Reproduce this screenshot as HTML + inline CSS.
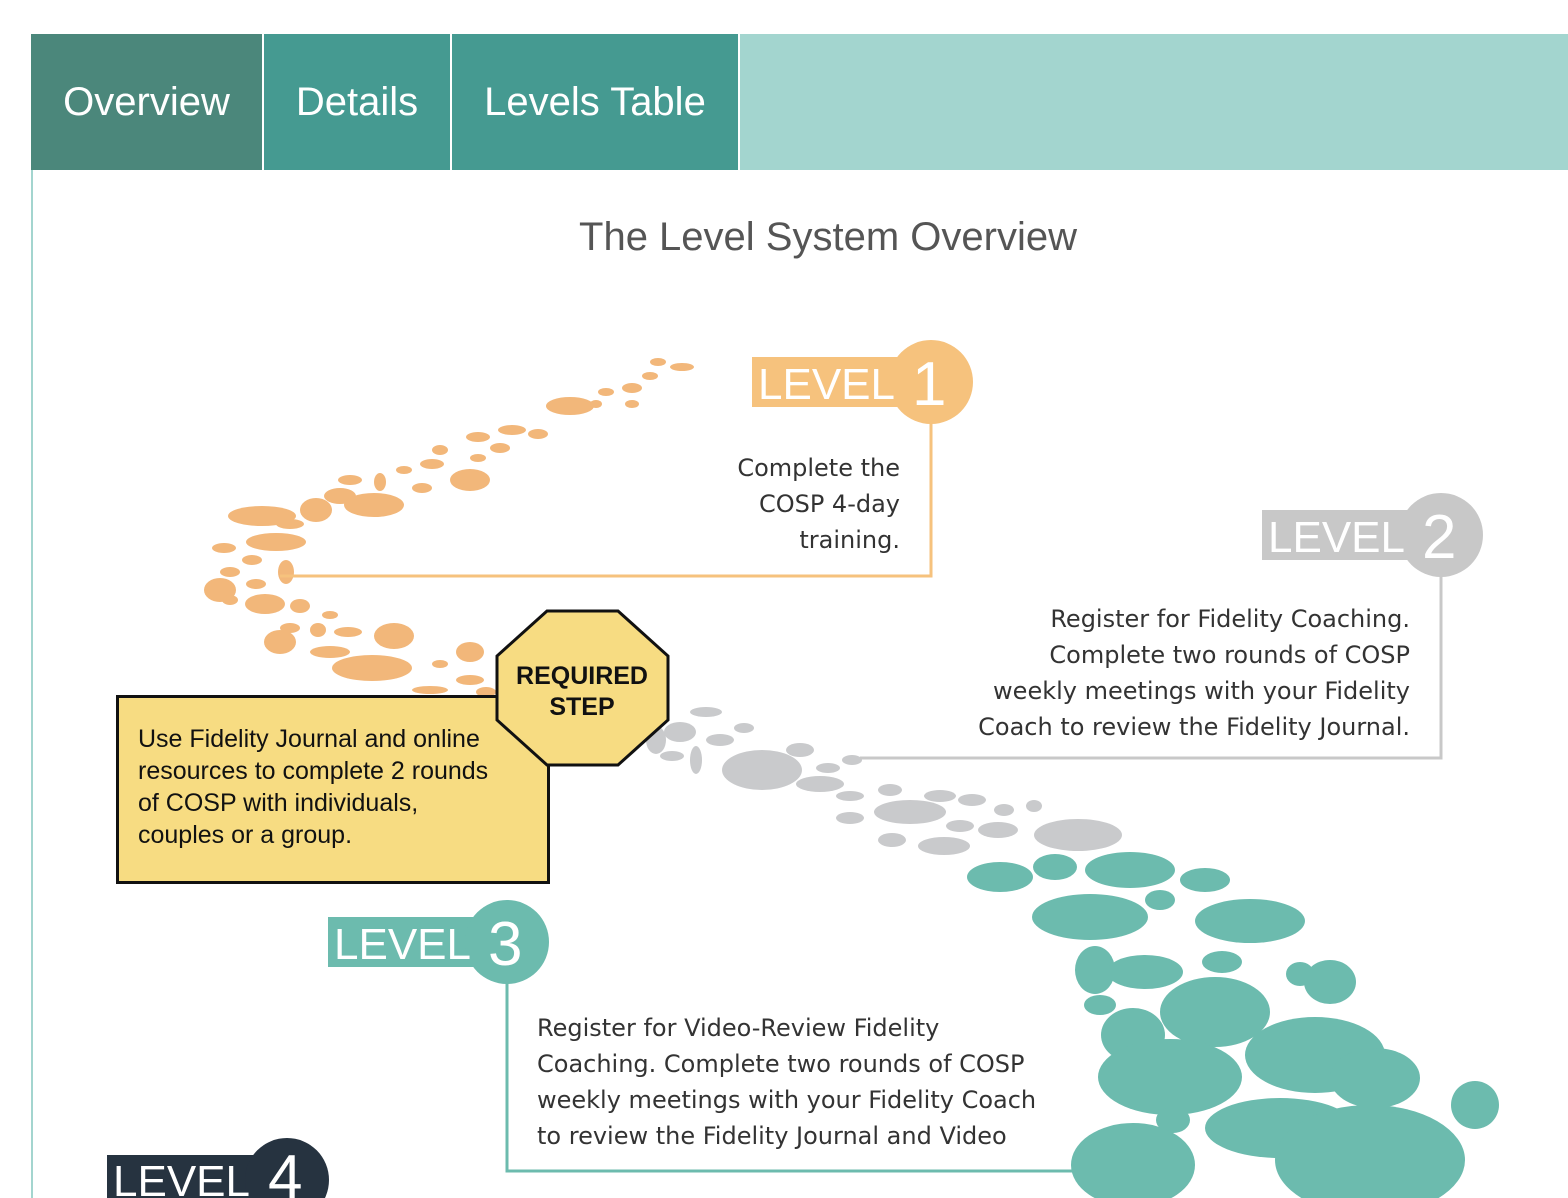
<!DOCTYPE html>
<html><head><meta charset="utf-8"><style>
html,body{margin:0;padding:0;background:#fff;}
body{width:1568px;height:1198px;overflow:hidden;position:relative;font-family:"Liberation Sans",sans-serif;}
.tab{position:absolute;top:34px;height:136px;color:#fff;font-size:40px;line-height:136px;text-align:center;}
</style></head><body>
<div class="tab" style="left:31px;width:231px;background:#4b877b;">Overview</div>
<div class="tab" style="left:264px;width:186px;background:#459a91;">Details</div>
<div class="tab" style="left:452px;width:286px;background:#459a91;">Levels Table</div>
<div class="tab" style="left:740px;width:828px;background:#a3d5cf;"></div>
<div style="position:absolute;left:31px;top:170px;width:2px;height:1028px;background:#a3d5cf;"></div>
<svg width="1568" height="1198" style="position:absolute;left:0;top:0" xmlns="http://www.w3.org/2000/svg">
<text x="828" y="250" text-anchor="middle" font-family="Liberation Sans" font-size="40" fill="#555">The Level System Overview</text>
<!-- orange stones -->
<g fill="#f2b77a">
<ellipse cx="682" cy="367" rx="12" ry="4"/><ellipse cx="658" cy="362" rx="8" ry="4"/><ellipse cx="650" cy="376" rx="8" ry="4"/>
<ellipse cx="632" cy="388" rx="10" ry="5"/><ellipse cx="606" cy="392" rx="8" ry="4"/><ellipse cx="632" cy="404" rx="7" ry="4"/>
<ellipse cx="570" cy="406" rx="24" ry="9"/><ellipse cx="596" cy="404" rx="6" ry="4"/><ellipse cx="538" cy="434" rx="10" ry="5"/>
<ellipse cx="512" cy="430" rx="14" ry="5"/><ellipse cx="478" cy="437" rx="12" ry="5"/><ellipse cx="500" cy="448" rx="10" ry="5"/>
<ellipse cx="440" cy="450" rx="8" ry="5"/><ellipse cx="478" cy="458" rx="8" ry="4"/><ellipse cx="470" cy="480" rx="20" ry="11"/>
<ellipse cx="432" cy="464" rx="12" ry="5"/><ellipse cx="404" cy="470" rx="8" ry="4"/><ellipse cx="422" cy="488" rx="10" ry="5"/>
<ellipse cx="380" cy="482" rx="6" ry="9"/><ellipse cx="350" cy="480" rx="12" ry="5"/><ellipse cx="340" cy="496" rx="16" ry="8"/>
<ellipse cx="374" cy="505" rx="30" ry="12"/><ellipse cx="316" cy="510" rx="16" ry="12"/><ellipse cx="262" cy="516" rx="34" ry="10"/>
<ellipse cx="290" cy="524" rx="14" ry="5"/><ellipse cx="276" cy="542" rx="30" ry="9"/><ellipse cx="224" cy="548" rx="12" ry="5"/>
<ellipse cx="252" cy="560" rx="10" ry="5"/><ellipse cx="286" cy="572" rx="8" ry="12"/><ellipse cx="230" cy="572" rx="10" ry="5"/>
<ellipse cx="220" cy="590" rx="16" ry="12"/><ellipse cx="256" cy="584" rx="10" ry="5"/><ellipse cx="265" cy="604" rx="20" ry="10"/>
<ellipse cx="230" cy="600" rx="8" ry="5"/><ellipse cx="300" cy="606" rx="10" ry="7"/><ellipse cx="330" cy="615" rx="8" ry="4"/>
<ellipse cx="290" cy="628" rx="10" ry="5"/><ellipse cx="318" cy="630" rx="8" ry="7"/><ellipse cx="348" cy="632" rx="14" ry="5"/>
<ellipse cx="394" cy="636" rx="20" ry="13"/><ellipse cx="280" cy="642" rx="16" ry="12"/><ellipse cx="330" cy="652" rx="20" ry="6"/>
<ellipse cx="372" cy="668" rx="40" ry="13"/><ellipse cx="470" cy="652" rx="14" ry="10"/><ellipse cx="440" cy="664" rx="8" ry="4"/>
<ellipse cx="470" cy="680" rx="14" ry="5"/><ellipse cx="430" cy="690" rx="18" ry="4"/><ellipse cx="486" cy="692" rx="10" ry="5"/>
</g>
<!-- gray stones -->
<g fill="#c9cacc">
<ellipse cx="706" cy="712" rx="16" ry="5"/><ellipse cx="680" cy="732" rx="16" ry="10"/><ellipse cx="720" cy="740" rx="14" ry="6"/>
<ellipse cx="744" cy="728" rx="10" ry="5"/><ellipse cx="656" cy="740" rx="10" ry="14"/><ellipse cx="696" cy="760" rx="6" ry="14"/>
<ellipse cx="672" cy="756" rx="12" ry="5"/><ellipse cx="762" cy="770" rx="40" ry="20"/><ellipse cx="800" cy="750" rx="14" ry="7"/>
<ellipse cx="828" cy="768" rx="12" ry="5"/><ellipse cx="852" cy="760" rx="10" ry="5"/><ellipse cx="820" cy="784" rx="24" ry="8"/>
<ellipse cx="850" cy="796" rx="14" ry="5"/><ellipse cx="890" cy="790" rx="12" ry="6"/><ellipse cx="910" cy="812" rx="36" ry="12"/>
<ellipse cx="850" cy="818" rx="14" ry="6"/><ellipse cx="940" cy="796" rx="16" ry="6"/><ellipse cx="972" cy="800" rx="14" ry="6"/>
<ellipse cx="1004" cy="810" rx="10" ry="6"/><ellipse cx="1034" cy="806" rx="8" ry="6"/><ellipse cx="998" cy="830" rx="20" ry="8"/>
<ellipse cx="960" cy="826" rx="14" ry="6"/><ellipse cx="892" cy="840" rx="14" ry="7"/><ellipse cx="944" cy="846" rx="26" ry="9"/>
<ellipse cx="1078" cy="835" rx="44" ry="16"/>
</g>
<!-- teal stones -->
<g fill="#6cbbae">
<ellipse cx="1000" cy="877" rx="33" ry="15"/><ellipse cx="1055" cy="867" rx="22" ry="13"/><ellipse cx="1130" cy="870" rx="45" ry="18"/>
<ellipse cx="1205" cy="880" rx="25" ry="12"/><ellipse cx="1090" cy="917" rx="58" ry="23"/><ellipse cx="1160" cy="900" rx="15" ry="10"/>
<ellipse cx="1250" cy="921" rx="55" ry="22"/><ellipse cx="1095" cy="970" rx="20" ry="24"/><ellipse cx="1145" cy="972" rx="38" ry="17"/>
<ellipse cx="1222" cy="962" rx="20" ry="11"/><ellipse cx="1300" cy="974" rx="14" ry="12"/><ellipse cx="1330" cy="982" rx="26" ry="22"/>
<ellipse cx="1215" cy="1012" rx="55" ry="35"/><ellipse cx="1100" cy="1005" rx="16" ry="10"/><ellipse cx="1133" cy="1035" rx="32" ry="27"/>
<ellipse cx="1315" cy="1055" rx="70" ry="38"/><ellipse cx="1170" cy="1077" rx="72" ry="38"/><ellipse cx="1375" cy="1078" rx="45" ry="30"/>
<ellipse cx="1475" cy="1105" rx="24" ry="24"/><ellipse cx="1173" cy="1120" rx="17" ry="13"/><ellipse cx="1280" cy="1128" rx="75" ry="30"/>
<ellipse cx="1133" cy="1165" rx="62" ry="42"/><ellipse cx="1370" cy="1160" rx="95" ry="55"/>
</g>
<!-- level 1 -->
<polyline points="931,420 931,576 280,576" fill="none" stroke="#f6c27d" stroke-width="3"/>
<rect x="752" y="357" width="150" height="50" fill="#f6c27d"/><circle cx="931" cy="382" r="42" fill="#f6c27d"/>
<text x="758" y="399" font-size="44" fill="#fff">LEVEL</text><text x="912" y="405" font-size="62" fill="#fff">1</text>
<g font-family="DejaVu Sans" font-size="24" fill="#333" text-anchor="end">
<text x="900" y="476">Complete the</text><text x="900" y="512">COSP 4-day</text><text x="900" y="548">training.</text></g>
<!-- level 2 -->
<polyline points="1441,575 1441,758 860,758" fill="none" stroke="#c8c8c8" stroke-width="3"/>
<rect x="1262" y="510" width="150" height="50" fill="#c8c8c8"/><circle cx="1441" cy="535" r="42" fill="#c8c8c8"/>
<text x="1268" y="552" font-size="44" fill="#fff">LEVEL</text><text x="1422" y="558" font-size="62" fill="#fff">2</text>
<g font-family="DejaVu Sans" font-size="24" fill="#333" text-anchor="end">
<text x="1410" y="627">Register for Fidelity Coaching.</text><text x="1410" y="663">Complete two rounds of COSP</text>
<text x="1410" y="699">weekly meetings with your Fidelity</text><text x="1410" y="735">Coach to review the Fidelity Journal.</text></g>
<!-- level 3 -->
<polyline points="507,980 507,1171 1075,1171" fill="none" stroke="#6cbbae" stroke-width="3"/>
<rect x="328" y="917" width="152" height="50" fill="#6cbbae"/><circle cx="507" cy="942" r="42" fill="#6cbbae"/>
<text x="334" y="959" font-size="44" fill="#fff">LEVEL</text><text x="488" y="965" font-size="62" fill="#fff">3</text>
<g font-family="DejaVu Sans" font-size="24" fill="#333">
<text x="537" y="1036">Register for Video-Review Fidelity</text><text x="537" y="1072">Coaching. Complete two rounds of COSP</text>
<text x="537" y="1108">weekly meetings with your Fidelity Coach</text><text x="537" y="1144">to review the Fidelity Journal and Video</text></g>
<!-- level 4 -->
<rect x="107" y="1155" width="155" height="50" fill="#263340"/><circle cx="287" cy="1180" r="42" fill="#263340"/>
<text x="113" y="1196" font-size="44" fill="#fff">LEVEL</text><text x="268" y="1198" font-size="62" fill="#fff">4</text>
<!-- yellow box -->
<rect x="117.5" y="696.5" width="431" height="186" fill="#f7dc82" stroke="#111" stroke-width="3"/>
<g font-size="25" fill="#111">
<text x="138" y="747">Use Fidelity Journal and online</text><text x="138" y="779">resources to complete 2 rounds</text>
<text x="138" y="811">of COSP with individuals,</text><text x="138" y="843">couples or a group.</text></g>
<polygon points="547,611 618,611 668,656 668,720 618,765 547,765 497,720 497,656" fill="#f7dc82" stroke="#111" stroke-width="3"/>
<text x="582" y="684" font-size="25" font-weight="bold" text-anchor="middle" fill="#111">REQUIRED</text>
<text x="582" y="715" font-size="25" font-weight="bold" text-anchor="middle" fill="#111">STEP</text>
</svg>
</body></html>
